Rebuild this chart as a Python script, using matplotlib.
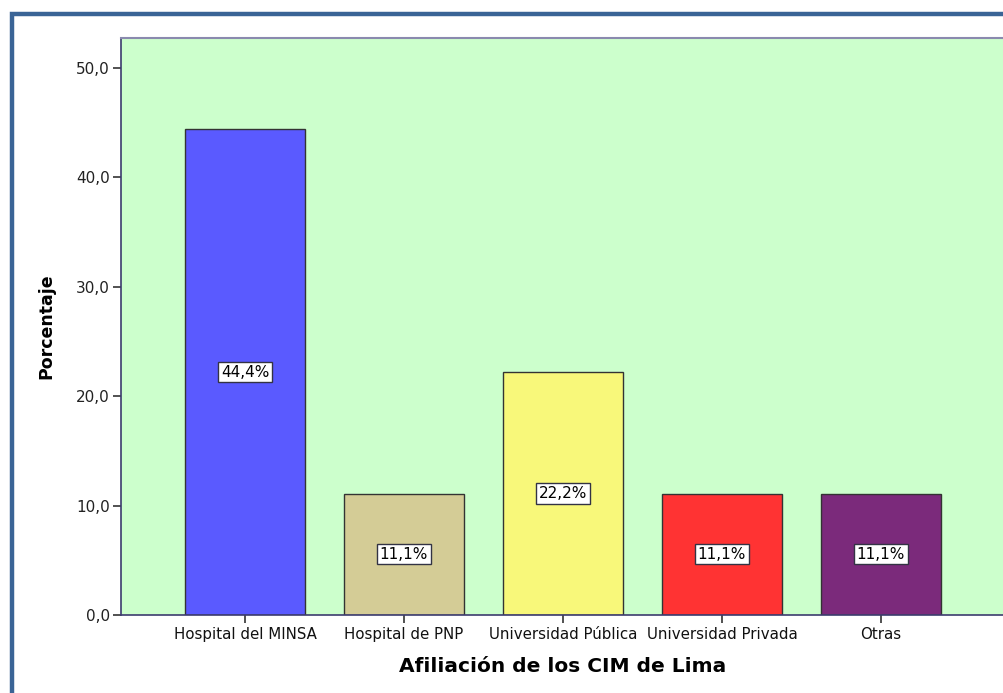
import numpy as np
import matplotlib.pyplot as plt
import matplotlib.patches as patches

# datos
categorias = ['Hospital del MINSA', 'Hospital de PNP', 'Universidad Pública',
              'Universidad Privada', 'Otras']
porcentajes = [44.4, 11.1, 22.2, 11.1, 11.1]
etiquetas = ['44,4%', '11,1%', '22,2%', '11,1%', '11,1%']
colores = ['#5a5aff', '#d4cc96', '#f8f87a', '#ff3333', '#7b2a7b']
yticks = [0, 10, 20, 30, 40, 50]
yticklabels = ['0,0', '10,0', '20,0', '30,0', '40,0', '50,0']

fig = plt.figure(figsize=(10.04, 6.93), dpi=100)
ax = fig.add_axes([0.1205, 0.1126, 0.8805, 0.8326])

# marco azul exterior
marco = patches.Rectangle((0.0115, -0.05), 1.2, 1.0298, transform=fig.transFigure,
                          fill=False, edgecolor='#3a6496', linewidth=3.2, zorder=0)
fig.patches.append(marco)

ax.set_facecolor('#ccffcc')
x = np.arange(len(categorias))
ax.bar(x, porcentajes, width=0.755, color=colores, edgecolor='#333333', linewidth=1.0, zorder=2)

for xi, v, et in zip(x, porcentajes, etiquetas):
    ax.text(xi, v / 2, et, ha='center', va='center', fontsize=11, color='black', zorder=3,
            bbox=dict(boxstyle='square,pad=0.18', facecolor='white', edgecolor='#333344', linewidth=1.0))

ax.set_xlim(-0.78, 4.78)
ax.set_ylim(0, 52.74)
ax.set_yticks(yticks)
ax.set_yticklabels(yticklabels, fontsize=11, color='#222222')
ax.set_xticks(x)
ax.set_xticklabels(categorias, fontsize=10.8, color='#111111')
ax.tick_params(axis='both', direction='out', length=6, width=1.2, color='#333333', pad=2)
ax.tick_params(axis='x', pad=2.5)

for s in ['left', 'bottom']:
    ax.spines[s].set_color('#3c3c6e')
    ax.spines[s].set_linewidth(1.2)
ax.spines['top'].set_color('#8a8aae')
ax.spines['top'].set_linewidth(1.5)
ax.spines['right'].set_visible(False)

ax.set_ylabel('Porcentaje', fontsize=12.5, fontweight='bold', labelpad=15)
ax.set_xlabel('Afiliación de los CIM de Lima', fontsize=14.5, fontweight='bold', labelpad=11)

fig.savefig('out.png', dpi=100)
